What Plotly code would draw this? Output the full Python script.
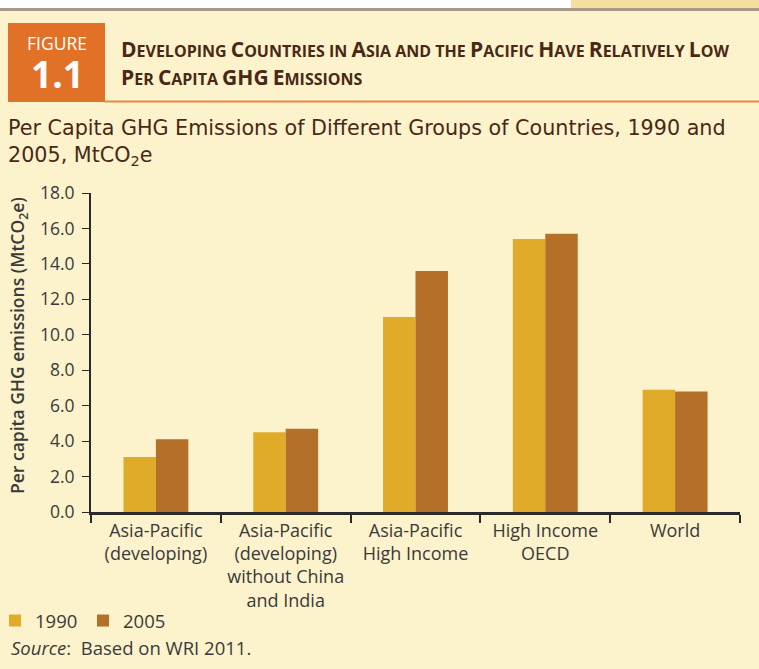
import plotly.graph_objects as go

categories = ["Asia-Pacific<br>(developing)",
              "Asia-Pacific<br>(developing)<br>without China<br>and India",
              "Asia-Pacific<br>High Income",
              "High Income<br>OECD",
              "World"]
values_1990 = [3.1, 4.5, 11.0, 15.4, 6.9]
values_2005 = [4.1, 4.7, 13.6, 15.7, 6.8]
ytick_vals = [0, 2, 4, 6, 8, 10, 12, 14, 16, 18]
ytick_text = ["0.0", "2.0", "4.0", "6.0", "8.0", "10.0", "12.0", "14.0", "16.0", "18.0"]

W, H = 759, 669
L, R, T, B = 91, 19, 193, 157
PW, PH = W - L - R, H - T - B

def px(x):
    return (x - L) / PW

def py(y):
    return (H - B - y) / PH

BG = "#FCF3CC"
FONT = "Open Sans"
TXT = "#3a3a3a"
BROWN = "#4A2816"

fig = go.Figure()
fig.add_trace(go.Bar(x=categories, y=values_1990, name="1990",
                     marker=dict(color="#E1AB2A", line=dict(width=0))))
fig.add_trace(go.Bar(x=categories, y=values_2005, name="2005",
                     marker=dict(color="#B46F28", line=dict(width=0))))

shapes = [
    dict(type="rect", xref="paper", yref="paper", x0=px(0), x1=px(W), y0=py(8), y1=py(0),
         fillcolor="white", line=dict(width=0), layer="below"),
    dict(type="rect", xref="paper", yref="paper", x0=px(571), x1=px(W), y0=py(9), y1=py(0),
         fillcolor="#F5DE9E", line=dict(width=0), layer="below"),
    dict(type="line", xref="paper", yref="paper", x0=px(0), x1=px(W), y0=py(9.5), y1=py(9.5),
         line=dict(color="#A8998A", width=3)),
    dict(type="rect", xref="paper", yref="paper", x0=px(8), x1=px(105), y0=py(102), y1=py(23),
         fillcolor="#E07127", line=dict(width=0)),
    dict(type="line", xref="paper", yref="paper", x0=px(105), x1=px(W), y0=py(101.5), y1=py(101.5),
         line=dict(color="#E8894A", width=2)),
]

def sc(text, big=21, small=16):
    out = []
    for word in text.split(" "):
        if word.isupper():
            out.append(f"<span style='font-size:{big}px'>{word}</span>")
        elif word[0].isupper():
            out.append(f"<span style='font-size:{big}px'>{word[0]}</span>{word[1:].upper()}")
        else:
            out.append(word.upper())
    return " ".join(out)

head1 = sc("Developing Countries in Asia and the Pacific Have Relatively Low")
head2 = sc("Per Capita GHG Emissions")

annotations = [
    dict(text="FIGURE", xref="paper", yref="paper", x=px(57), y=py(43), xanchor="center", yanchor="middle",
         showarrow=False, font=dict(family=FONT, size=17.5, color="white")),
    dict(text="<b>1.1</b>", xref="paper", yref="paper", x=px(57.5), y=py(74), xanchor="center", yanchor="middle",
         showarrow=False, font=dict(family=FONT, size=37, color="white")),
    dict(text=f"<b>{head1}</b>", xref="paper", yref="paper", x=px(119), y=py(65), xanchor="left", yanchor="bottom",
         showarrow=False, font=dict(family=FONT, size=16, color=BROWN)),
    dict(text=f"<b>{head2}</b>", xref="paper", yref="paper", x=px(119), y=py(93), xanchor="left", yanchor="bottom",
         showarrow=False, font=dict(family=FONT, size=16, color=BROWN)),
    dict(text="Per Capita GHG Emissions of Different Groups of Countries, 1990 and<br>2005, MtCO<sub>2</sub>e",
         xref="paper", yref="paper", x=px(6), y=py(114), xanchor="left", yanchor="top", align="left",
         showarrow=False, font=dict(family="DejaVu Sans", size=20.7, color=BROWN)),
    dict(text="Per capita GHG emissions (MtCO<sub>2</sub>e)", xref="paper", yref="paper",
         x=px(18), y=py(346), xanchor="center", yanchor="middle", textangle=-90,
         showarrow=False, font=dict(family=FONT, size=17.5, color=TXT, weight=600)),
    dict(text="<i>Source</i>:  Based on WRI 2011.", xref="paper", yref="paper", x=px(9), y=py(647),
         xanchor="left", yanchor="middle", showarrow=False, font=dict(family=FONT, size=18.5, color=TXT)),
]

fig.update_layout(
    width=W, height=H,
    margin=dict(l=L, r=R, t=T, b=B, pad=0, autoexpand=False),
    paper_bgcolor=BG, plot_bgcolor=BG,
    barmode="group", bargap=0.5, bargroupgap=0,
    font=dict(family=FONT, size=16, color=TXT),
    showlegend=True,
    legend=dict(orientation="h", xref="paper", yref="paper", x=px(-5), y=py(621),
                xanchor="left", yanchor="middle", bgcolor="rgba(0,0,0,0)",
                font=dict(family=FONT, size=18.5, color=TXT), itemwidth=30,
                entrywidth=43, entrywidthmode="pixels"),
    xaxis=dict(type="category", showgrid=False, showline=True, linecolor="#2a2a2a", linewidth=3,
               ticks="outside", tickson="boundaries", ticklen=8, tickwidth=2, tickcolor="#2a2a2a",
               tickfont=dict(family=FONT, size=18, color=TXT), zeroline=False, automargin=False),
    yaxis=dict(range=[0, 18], tickvals=ytick_vals, ticktext=ytick_text, showgrid=False,
               showline=True, linecolor="#2a2a2a", linewidth=2, ticks="outside", ticklen=7,
               tickcolor="#2a2a2a", tickfont=dict(family=FONT, size=17.5, color=TXT), zeroline=False,
               ticklabelstandoff=4, automargin=False),
    shapes=shapes, annotations=annotations,
)

fig.write_html("out.html", config={"displayModeBar": False},
               post_script="document.body.style.margin='0';document.body.style.overflow='hidden';")
